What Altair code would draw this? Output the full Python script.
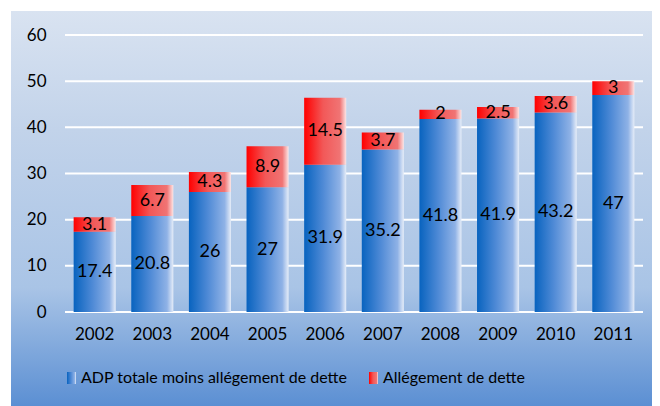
import altair as alt
import pandas as pd

years = ["2002", "2003", "2004", "2005", "2006", "2007", "2008", "2009", "2010", "2011"]
adp_net = [17.4, 20.8, 26, 27, 31.9, 35.2, 41.8, 41.9, 43.2, 47]
debt_relief = [3.1, 6.7, 4.3, 8.9, 14.5, 3.7, 2, 2.5, 3.6, 3]
y_ticks = [0, 10, 20, 30, 40, 50, 60]
series_names = ["ADP totale moins allégement de dette", "Allégement de dette"]

df = pd.DataFrame({"year": years, "base": adp_net, "relief": debt_relief})
df["total"] = df["base"] + df["relief"]
df["base_mid"] = df["base"] / 2
df["relief_mid"] = df["base"] + df["relief"] / 2
df["base_lbl"] = [f"{v:g}" for v in adp_net]
df["relief_lbl"] = [f"{v:g}" for v in debt_relief]

W, H = 578, 277
PL, PT, PR, PB = 57, 27, 9, 94

FONT = "Lato"

blue_grad = alt.Gradient(
    gradient="linear", x1=0, x2=1, y1=0, y2=0,
    stops=[alt.GradientStop(color="#0863bf", offset=0),
           alt.GradientStop(color="#4f8ad6", offset=0.45),
           alt.GradientStop(color="#8fb2e6", offset=0.85),
           alt.GradientStop(color="#e6edf8", offset=1)])
red_grad = alt.Gradient(
    gradient="linear", x1=0, x2=1, y1=0, y2=0,
    stops=[alt.GradientStop(color="#ff0000", offset=0),
           alt.GradientStop(color="#f25858", offset=0.45),
           alt.GradientStop(color="#f07474", offset=0.85),
           alt.GradientStop(color="#fde6e6", offset=1)])
bg_grad = alt.Gradient(
    gradient="linear", x1=0, x2=0, y1=0, y2=1,
    stops=[alt.GradientStop(color="#d9e3f1", offset=0),
           alt.GradientStop(color="#c2d3ea", offset=0.3),
           alt.GradientStop(color="#a9c4e6", offset=0.7),
           alt.GradientStop(color="#5b8fd3", offset=1)])

one = pd.DataFrame({"a": [0]})

xscale = alt.Scale(paddingInner=0.27, paddingOuter=0.15)
yscale = alt.Scale(domain=[0, 60], nice=False)

yaxis = alt.Axis(values=y_ticks, title=None, domain=False, ticks=False, tickSize=0,
                 grid=False, labelFont=FONT, labelFontSize=17, labelColor="#000000",
                 labelPadding=19, zindex=1)
xaxis = alt.Axis(title=None, domain=False, ticks=False, tickSize=0, labelAngle=0,
                 labelFont=FONT, labelFontSize=17, labelColor="#000000",
                 labelPadding=14, zindex=1, grid=False)


def X():
    return alt.X("year:N", scale=xscale, axis=xaxis)


def Y(field):
    return alt.Y(field, scale=yscale, axis=yaxis)


background = alt.Chart(one).mark_rect(fill=bg_grad, clip=False).encode(
    x=alt.value(-54), x2=alt.value(W + PR), y=alt.value(-24), y2=alt.value(H + PB)
)

grid = alt.Chart(pd.DataFrame({"v": y_ticks})).mark_rule(color="white", strokeWidth=2).encode(
    y=Y("v:Q"), x=alt.value(0), x2=alt.value(W),
)

bars_blue = alt.Chart(df).mark_bar(fill=blue_grad).encode(x=X(), y=Y("base:Q"))
bars_red = alt.Chart(df).mark_bar(fill=red_grad).encode(x=X(), y=Y("base:Q"), y2="total:Q")
lbl_blue = alt.Chart(df).mark_text(font=FONT, fontSize=18, color="#000000", baseline="middle").encode(
    x=X(), y=Y("base_mid:Q"), text="base_lbl:N"
)
lbl_red = alt.Chart(df).mark_text(font=FONT, fontSize=18, color="#000000", baseline="middle").encode(
    x=X(), y=Y("relief_mid:Q"), text="relief_lbl:N"
)

leg_sym1 = alt.Chart(one).mark_rect(fill=blue_grad, clip=False).encode(
    x=alt.value(2), x2=alt.value(11), y=alt.value(337), y2=alt.value(349))
leg_txt1 = alt.Chart(one).mark_text(text=series_names[0], font=FONT, fontSize=16, align="left",
                                    baseline="middle", color="#000000", clip=False).encode(
    x=alt.value(16), y=alt.value(343))
leg_sym2 = alt.Chart(one).mark_rect(fill=red_grad, clip=False).encode(
    x=alt.value(304), x2=alt.value(313), y=alt.value(337), y2=alt.value(349))
leg_txt2 = alt.Chart(one).mark_text(text=series_names[1], font=FONT, fontSize=16, align="left",
                                    baseline="middle", color="#000000", clip=False).encode(
    x=alt.value(318), y=alt.value(343))

chart = alt.layer(
    background, grid, bars_blue, bars_red, lbl_blue, lbl_red,
    leg_sym1, leg_txt1, leg_sym2, leg_txt2
).properties(
    width=W, height=H,
    autosize=alt.AutoSizeParams(type="none"),
    padding={"left": PL, "top": PT, "right": PR, "bottom": PB},
    background="white",
).configure_view(stroke=None)

chart.save("out.html", embed_options={"renderer": "svg", "actions": False})
